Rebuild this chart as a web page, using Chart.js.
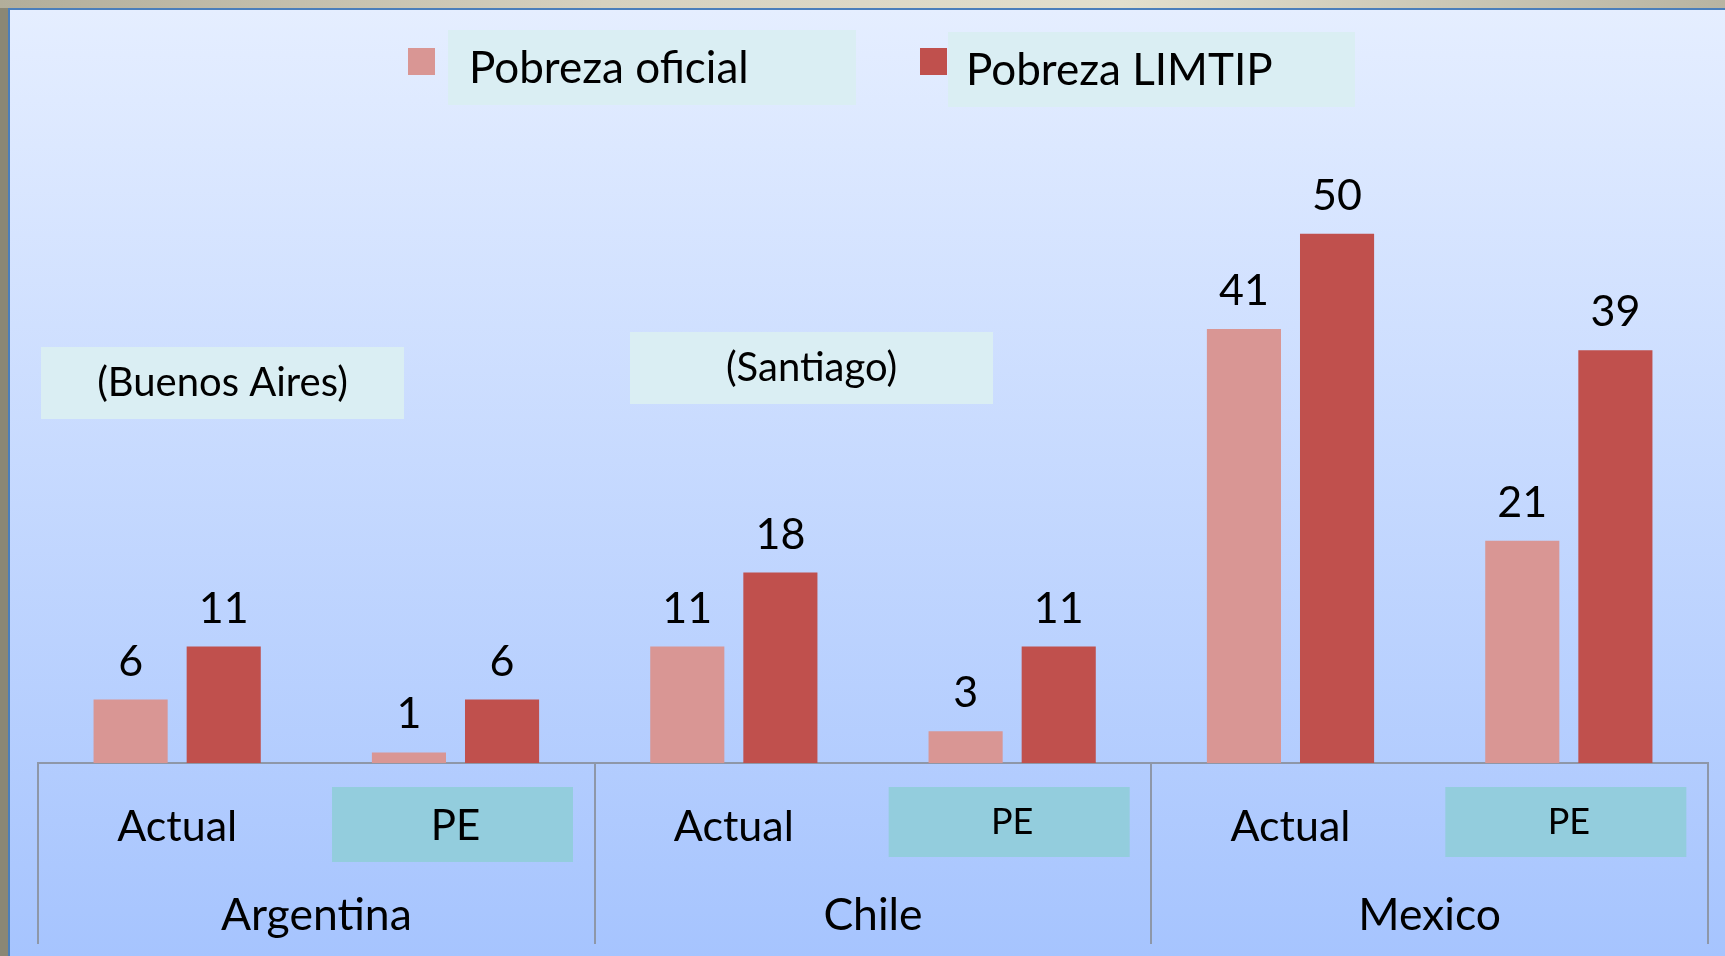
<!DOCTYPE html>
<html>
<head>
<meta charset="utf-8">
<script src="https://cdn.jsdelivr.net/npm/chart.js@4"></script>
<style>
html, body { margin: 0; padding: 0; }
body { width: 1725px; height: 956px; overflow: hidden; position: relative; background: #8a8775; }
#band { position: absolute; left: 0; top: 0; width: 1725px; height: 8px;
  background: linear-gradient(to right, #b2ae9b, #d6d1bf 35%, #e2dfcd 65%, #b8b4a2); }
#panel { position: absolute; left: 8px; top: 8px; right: 0; bottom: 0;
  border-left: 2px solid #4a7ebb; border-top: 2px solid #4a7ebb;
  background: linear-gradient(to bottom, #e5eeff, #a6c4fe); }
canvas { position: absolute; left: 0; top: 0; }
</style>
</head>
<body>
<div id="band"></div>
<div id="panel"></div>
<canvas id="bar-chartcanvas" width="1725" height="956"></canvas>
<script>
var categories = ['Actual', 'PE', 'Actual', 'PE', 'Actual', 'PE'];
var countries = ['Argentina', 'Chile', 'Mexico'];
var seriesNames = ['Pobreza oficial', 'Pobreza LIMTIP'];
var oficial = [6, 1, 11, 3, 41, 21];
var limtip = [11, 6, 18, 11, 50, 39];
var notes = ['(Buenos Aires)', '(Santiago)'];

var colOficial = '#d99694';
var colLimtip = '#c0504d';
var lineCol = '#8e97a8';

// light boxes behind the PE labels
var peBoxes = {
  id: 'peBoxes',
  beforeDraw: function(chart) {
    var ctx = chart.ctx;
    var x = chart.scales.x;
    var heights = [75, 70, 70];
    ctx.save();
    ctx.fillStyle = '#93cddd';
    for (var i = 1; i < categories.length; i += 2) {
      var cx = x.getPixelForValue(i) - 3;
      ctx.fillRect(cx - 120.5, 787, 241, heights[(i - 1) / 2]);
    }
    ctx.restore();
  }
};

// (Buenos Aires) / (Santiago) notes
var notesPlugin = {
  id: 'notes',
  beforeDatasetsDraw: function(chart) {
    var ctx = chart.ctx;
    var boxes = [[41, 347, 363, 72, 396], [630, 332, 363, 72, 381]];
    ctx.save();
    ctx.font = '40px Lato';
    ctx.textAlign = 'center';
    ctx.textBaseline = 'alphabetic';
    for (var i = 0; i < notes.length; i++) {
      var b = boxes[i];
      ctx.fillStyle = '#daeef3';
      ctx.fillRect(b[0], b[1], b[2], b[3]);
      ctx.fillStyle = '#000';
      ctx.fillText(notes[i], b[0] + b[2] / 2, b[4]);
    }
    ctx.restore();
  }
};

// numbers on top of the bars
var valueLabels = {
  id: 'valueLabels',
  afterDatasetsDraw: function(chart) {
    var ctx = chart.ctx;
    ctx.save();
    ctx.font = '43px Lato';
    ctx.fillStyle = '#000';
    ctx.textAlign = 'center';
    ctx.textBaseline = 'alphabetic';
    chart.data.datasets.forEach(function(ds, i) {
      chart.getDatasetMeta(i).data.forEach(function(bar, j) {
        ctx.fillText(ds.data[j], bar.x, bar.y - 24);
      });
    });
    ctx.restore();
  }
};

// legend with the light text boxes
var boxLegend = {
  id: 'boxLegend',
  afterDraw: function(chart) {
    var ctx = chart.ctx;
    var items = [
      { sq: 408, box: [448, 30, 408, 75], tx: 469, base: 83 },
      { sq: 920, box: [948, 32, 407, 75], tx: 966, base: 85 }
    ];
    ctx.save();
    ctx.font = '44px Lato';
    ctx.textBaseline = 'alphabetic';
    chart.data.datasets.forEach(function(ds, i) {
      var it = items[i];
      ctx.fillStyle = '#daeef3';
      ctx.fillRect(it.box[0], it.box[1], it.box[2], it.box[3]);
      ctx.fillStyle = ds.backgroundColor;
      ctx.fillRect(it.sq, 48, 27, 27);
      ctx.fillStyle = '#000';
      ctx.fillText(ds.label, it.tx, it.base);
    });
    ctx.restore();
  }
};

var ctx = document.getElementById('bar-chartcanvas');

var data1 = {
  labels: categories,
  datasets: [
    {
      label: seriesNames[0],
      data: oficial,
      backgroundColor: colOficial,
      categoryPercentage: 0.669,
      barPercentage: 0.796
    },
    {
      label: seriesNames[1],
      data: limtip,
      backgroundColor: colLimtip,
      categoryPercentage: 0.669,
      barPercentage: 0.796
    }
  ]
};

var options = {
  responsive: false,
  animation: false,
  devicePixelRatio: 1,
  layout: { padding: { left: 38, right: 17, top: 128, bottom: 0 } },
  plugins: {
    legend: { display: false },
    tooltip: { enabled: false }
  },
  scales: {
    y: { display: false, min: 0, max: 60 },
    x: {
      offset: true,
      grid: {
        offset: true,
        drawOnChartArea: false,
        tickLength: 181,
        lineWidth: 2,
        color: function(c) {
          return (c.index === undefined || c.index % 2 === 0) ? lineCol : 'rgba(0,0,0,0)';
        }
      },
      border: { display: true, color: lineCol, width: 2 },
      ticks: {
        padding: -143,
        color: '#000',
        autoSkip: false,
        maxRotation: 0,
        font: function(c) {
          if (c.index % 2 === 0) return { family: 'Lato', size: 43 };
          return { family: 'Lato', size: c.index === 1 ? 42 : 36 };
        }
      },
      afterFit: function(s) { s.height = 94; }
    },
    x2: {
      type: 'category',
      labels: countries,
      position: 'bottom',
      weight: 1,
      offset: true,
      grid: { display: false },
      border: { display: false },
      ticks: { padding: 24, color: '#000', font: { family: 'Lato', size: 44.5 } },
      afterFit: function(s) { s.height = 99; }
    }
  }
};

var chart = new Chart(ctx, {
  type: 'bar',
  data: data1,
  options: options,
  plugins: [peBoxes, notesPlugin, valueLabels, boxLegend]
});
</script>
</body>
</html>
